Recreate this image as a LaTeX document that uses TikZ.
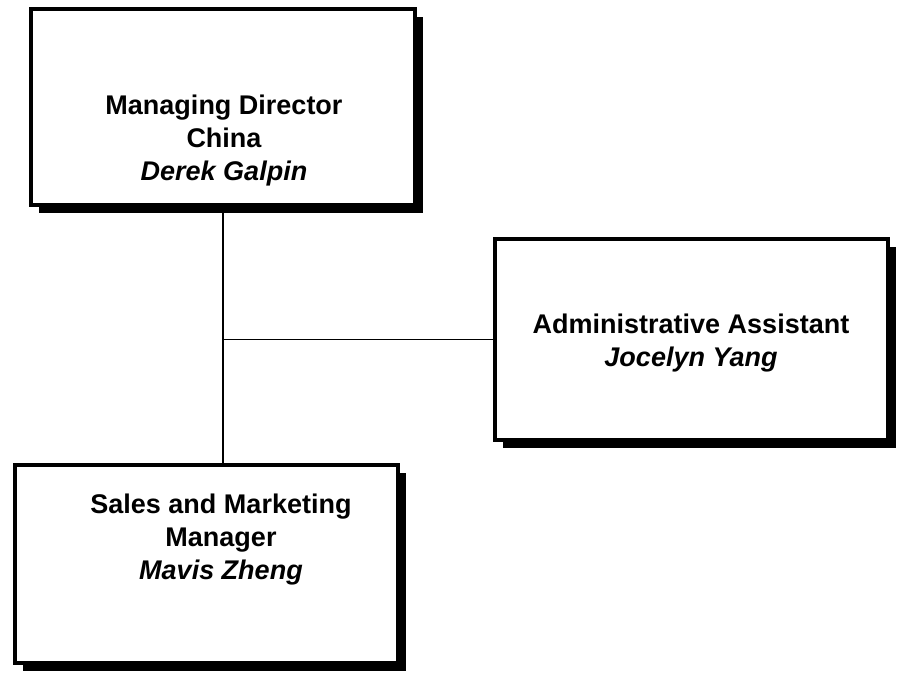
\documentclass[tikz,border=0pt]{standalone}
\usepackage{fontspec}
\setmainfont{Liberation Sans}
\usetikzlibrary{shadows}
\begin{document}
\begin{tikzpicture}[x=1pt,y=-1pt,
  orgbox/.style={draw=black, line width=4pt, fill=white, inner sep=0pt, outer sep=0pt,
    drop shadow={shadow xshift=8pt, shadow yshift=-8pt, opacity=1, fill=black}},
  lbl/.style={align=center, inner sep=0pt, font=\fontsize{27}{33}\selectfont\bfseries},
  conn/.style={line width=1.4pt}]
\useasboundingbox (0,0) rectangle (901,676);
\node[orgbox, minimum width=384pt, minimum height=196pt] (md) at (223,107) {};
\node[orgbox, minimum width=393pt, minimum height=201pt] (aa) at (691.5,339.5) {};
\node[orgbox, minimum width=383pt, minimum height=198pt] (sm) at (206.5,564) {};
\node[lbl] (mdt) at (224,141) {Managing Director\\China\\\textit{Derek Galpin}};
\node[lbl] (aat) at (691,343) {Administrative Assistant\\\textit{Jocelyn Yang}};
\node[lbl] (smt) at (221,540) {Sales and Marketing\\Manager\\\textit{Mavis Zheng}};
\coordinate (j) at (md.south |- aa.west);
\draw[conn] (md.south) -- (md.south |- sm.north);
\draw[conn] (j) -- (aa.west);
\end{tikzpicture}
\end{document}
